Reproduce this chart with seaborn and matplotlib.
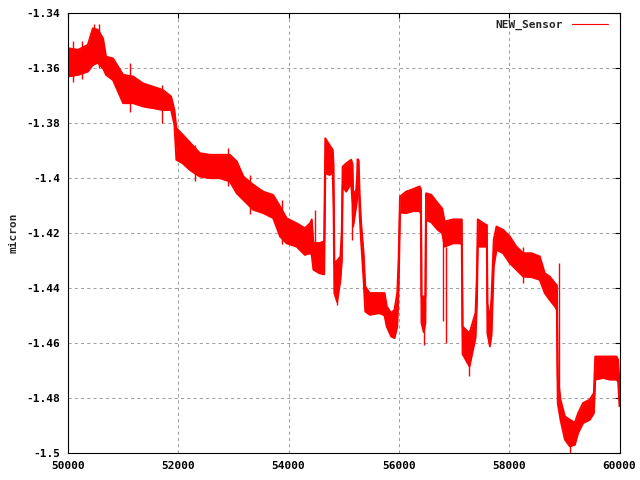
import pandas as pd
import seaborn as sns
import matplotlib.pyplot as plt

# envelope of the noisy trace
x_pos = [50000, 50180, 50360, 50450, 50540, 50635, 50690, 50816, 51000, 51180,
         51360, 51540, 51720, 51870, 51930, 51965, 52080, 52210, 52390, 52575,
         52755, 52935, 53060, 53180, 53360, 53540, 53720, 53845, 53965, 54145,
         54295, 54390, 54420, 54450, 54560, 54645, 54665, 54740, 54800, 54815,
         54830, 54880, 54940, 54965, 54980, 55045, 55135, 55160, 55170, 55225,
         55240, 55250, 55270, 55290, 55315, 55360, 55390, 55470, 55650, 55740,
         55780, 55860, 55920, 55970, 55995, 56020, 56130, 56255, 56375, 56400,
         56410, 56450, 56480, 56492, 56585, 56705, 56785, 56830, 56980, 57100,
         57140, 57155, 57280, 57390, 57415, 57430, 57580, 57595, 57605, 57650,
         57680, 57720, 57770, 57890, 58010, 58130, 58255, 58405, 58555, 58645,
         58735, 58830, 58865, 58880, 58930, 59010, 59100, 59190, 59250, 59340,
         59460, 59535, 59560, 59705, 59825, 59945, 59975, 60000]
upper = [-1.3527, -1.3533, -1.3515, -1.3455, -1.3460, -1.3491, -1.3558, -1.3564, -1.3624, -1.3630,
         -1.3655, -1.3667, -1.3679, -1.3703, -1.3752, -1.3818, -1.3842, -1.3870, -1.3909, -1.3915,
         -1.3915, -1.3915, -1.3939, -1.3994, -1.4024, -1.4049, -1.4061, -1.4103, -1.4146, -1.4164,
         -1.4182, -1.4164, -1.4150, -1.4236, -1.4236, -1.4230, -1.3855, -1.3879, -1.3897, -1.3950,
         -1.4310, -1.4300, -1.4285, -1.4188, -1.3958, -1.3946, -1.3933, -1.3950, -1.4061, -1.4043,
         -1.4000, -1.3931, -1.3935, -1.4067, -1.4164, -1.4273, -1.4394, -1.4418, -1.4418, -1.4418,
         -1.4467, -1.4491, -1.4479, -1.4418, -1.4297, -1.4067, -1.4049, -1.4040, -1.4030, -1.4040,
         -1.4430, -1.4430, -1.4430, -1.4055, -1.4060, -1.4091, -1.4110, -1.4158, -1.4150, -1.4150,
         -1.4150, -1.4540, -1.4564, -1.4490, -1.4350, -1.4150, -1.4170, -1.4170, -1.4455, -1.4520,
         -1.4430, -1.4224, -1.4176, -1.4188, -1.4212, -1.4249, -1.4273, -1.4273, -1.4285, -1.4346,
         -1.4358, -1.4382, -1.4390, -1.4721, -1.4806, -1.4867, -1.4879, -1.4890, -1.4855, -1.4818,
         -1.4806, -1.4782, -1.4649, -1.4649, -1.4649, -1.4649, -1.4660, -1.4750]
lower = [-1.3630, -1.3624, -1.3612, -1.3588, -1.3580, -1.3600, -1.3624, -1.3643, -1.3727, -1.3727,
         -1.3739, -1.3745, -1.3752, -1.3752, -1.3806, -1.3933, -1.3946, -1.3970, -1.3994, -1.4000,
         -1.4000, -1.4012, -1.4055, -1.4079, -1.4115, -1.4127, -1.4145, -1.4212, -1.4237, -1.4249,
         -1.4279, -1.4273, -1.4280, -1.4333, -1.4346, -1.4350, -1.3982, -1.3988, -1.3982, -1.4100,
         -1.4418, -1.4450, -1.4370, -1.4300, -1.4030, -1.4049, -1.4018, -1.4100, -1.4176, -1.4103,
         -1.4080, -1.4000, -1.4010, -1.4140, -1.4230, -1.4370, -1.4485, -1.4497, -1.4491, -1.4500,
         -1.4540, -1.4576, -1.4582, -1.4540, -1.4400, -1.4125, -1.4127, -1.4120, -1.4120, -1.4130,
         -1.4527, -1.4560, -1.4527, -1.4152, -1.4160, -1.4188, -1.4200, -1.4249, -1.4237, -1.4237,
         -1.4240, -1.4640, -1.4685, -1.4580, -1.4450, -1.4249, -1.4249, -1.4249, -1.4564, -1.4612,
         -1.4570, -1.4321, -1.4261, -1.4273, -1.4309, -1.4333, -1.4358, -1.4360, -1.4370, -1.4418,
         -1.4443, -1.4467, -1.4480, -1.4818, -1.4879, -1.4951, -1.4976, -1.4970, -1.4927, -1.4891,
         -1.4879, -1.4855, -1.4733, -1.4727, -1.4733, -1.4733, -1.4740, -1.4830]

# single thin spikes poking out of the band
spike_x = [50090, 50250, 50470, 50560, 51120, 51700, 52300, 52900, 53300, 53880,
           54480, 54880, 55150, 56450, 56795, 56845, 57280, 58250, 58905, 59100]
spike_top = [-1.3500, -1.3500, -1.3440, -1.3440, -1.3580, -1.3660, -1.3880, -1.3890, -1.3990, -1.4080,
             -1.4115, -1.4370, -1.4100, -1.4527, -1.4200, -1.4249, -1.4680, -1.4250, -1.4309, -1.4970]
spike_bottom = [-1.3650, -1.3640, -1.3560, -1.3600, -1.3760, -1.3800, -1.4010, -1.4030, -1.4130, -1.4240,
                -1.4300, -1.4460, -1.4224, -1.4606, -1.4520, -1.4600, -1.4720, -1.4380, -1.4806, -1.5000]

yticks = [-1.34, -1.36, -1.38, -1.40, -1.42, -1.44, -1.46, -1.48, -1.50]
ylabels = ['-1.34', '-1.36', '-1.38', '-1.4', '-1.42', '-1.44', '-1.46', '-1.48', '-1.5']
xticks = [50000, 52000, 54000, 56000, 58000, 60000]
xlabels = ['50000', '52000', '54000', '56000', '58000', '60000']

sns.set_style('white')
plt.rcParams['font.family'] = ['DejaVu Sans Mono']
plt.rcParams['font.weight'] = 'bold'

df = pd.DataFrame({'x': x_pos, 'upper': upper, 'lower': lower})

fig = plt.figure(figsize=(6.4, 4.8), dpi=100)
ax = fig.add_axes([68 / 640, 27 / 480, 551.5 / 640, 439.7 / 480])

ax.fill_between(df['x'], df['lower'], df['upper'], color='red', lw=0, zorder=3)
sns.lineplot(data=df, x='x', y='upper', color='red', lw=1.4, ax=ax, zorder=3)
sns.lineplot(data=df, x='x', y='lower', color='red', lw=1.4, ax=ax, zorder=3)
ax.vlines(spike_x, spike_bottom, spike_top, color='red', lw=1.0, zorder=3)
# legend entry
ax.plot([], [], color='red', lw=0.8, label='NEW_Sensor')

ax.set_xlim(50000, 60000)
ax.set_ylim(-1.5, -1.34)
ax.set_xticks(xticks)
ax.set_xticklabels(xlabels)
ax.set_yticks(yticks)
ax.set_yticklabels(ylabels)
ax.set_xlabel('')
ax.set_ylabel('micron', fontsize=8, fontweight='bold')
ax.yaxis.set_label_coords(-0.09, 0.5)

ax.grid(True, color='#a0a0a0', linestyle=(0, (3, 3)), linewidth=0.75)
ax.tick_params(direction='in', length=3.6, width=0.8, top=True, right=True,
               labelsize=8, pad=5.5, colors='black')
for s in ax.spines.values():
    s.set_color('black')
    s.set_linewidth(0.8)
    s.set_zorder(4)

ax.legend(loc='upper right', frameon=False, markerfirst=False, handlelength=3.3,
          prop={'weight': 'bold', 'size': 8}, borderaxespad=0.6, bbox_to_anchor=(1.0, 1.01))

plt.savefig('out.png', dpi=100)
